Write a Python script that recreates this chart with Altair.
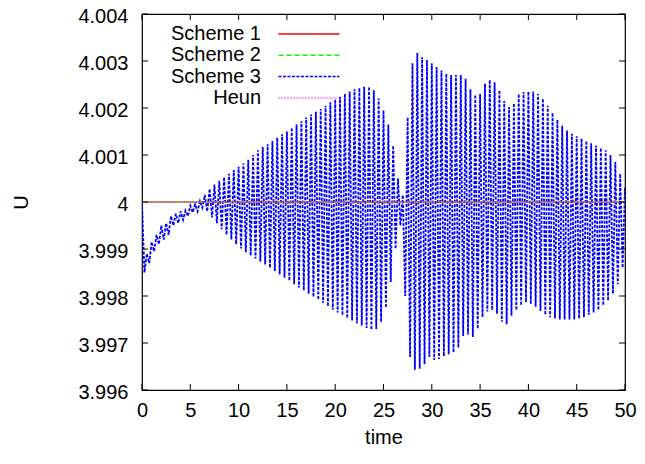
import altair as alt
import pandas as pd

# ---------------- data ----------------
series_names = ["Scheme 1", "Scheme 2", "Scheme 3", "Heun"]
series_colors = ["#ff0000", "#00ff00", "#0000ff", "#ff00ff"]
series_dashes = [[1, 0], [5, 3], [3, 1.5], [1, 2]]

# Schemes 1, 2 and Heun stay flat at U = 4
flat_time = [0, 50]
scheme1_u = [4.0, 4.0]
scheme2_u = [4.0, 4.0]
heun_u = [4.0, 4.0]

# Scheme 3 oscillates fast: upper swing read at t = 0, 0.5, ... 50,
# lower swing read a quarter unit later; values are (U - 4) * 1000
s3_step = 0.5
s3_upper = [
    0.0, -1.1, -0.85, -0.7, -0.5, -0.45, -0.3, -0.25, -0.2, -0.18, -0.08, -0.05, 0.02,
    0.15, 0.28, 0.37, 0.45, 0.53, 0.6, 0.68, 0.75, 0.82, 0.9, 1.0, 1.1, 1.17, 1.23,
    1.3, 1.37, 1.44, 1.5, 1.58, 1.65, 1.72, 1.8, 1.86, 1.92, 1.98, 2.05, 2.12, 2.18,
    2.24, 2.3, 2.35, 2.4, 2.43, 2.45, 2.45, 2.38, 2.2, 1.95, 1.65, 1.2, 0.5, 0.15,
    1.8, 2.95, 3.17, 3.08, 3.02, 2.95, 2.87, 2.8, 2.73, 2.7, 2.7, 2.7, 2.62, 2.4,
    2.28, 2.3, 2.52, 2.6, 2.55, 2.38, 2.15, 2.02, 2.1, 2.3, 2.34, 2.35, 2.35, 2.3,
    2.2, 2.05, 1.9, 1.75, 1.62, 1.52, 1.45, 1.4, 1.35, 1.3, 1.25, 1.2, 1.15, 1.1,
    1.0, 0.85, 0.6, 0.3,
]
s3_lower = [
    -1.5, -1.3, -1.05, -0.9, -0.8, -0.7, -0.5, -0.45, -0.38, -0.3, -0.22, -0.2, -0.12,
    -0.2, -0.33, -0.45, -0.58, -0.7, -0.8, -0.9, -0.99, -1.07, -1.14, -1.2, -1.27,
    -1.33, -1.4, -1.47, -1.54, -1.61, -1.68, -1.75, -1.82, -1.88, -1.95, -2.02, -2.08,
    -2.15, -2.22, -2.29, -2.35, -2.41, -2.47, -2.52, -2.58, -2.63, -2.68, -2.72, -2.7,
    -2.55, -2.25, -1.7, -1.0, -0.5, -2.0, -3.3, -3.57, -3.55, -3.45, -3.3, -3.36,
    -3.34, -3.28, -3.24, -3.2, -3.1, -2.85, -2.82, -2.87, -2.7, -2.45, -2.33, -2.3,
    -2.38, -2.55, -2.6, -2.42, -2.3, -2.2, -2.13, -2.17, -2.23, -2.32, -2.4, -2.45,
    -2.48, -2.5, -2.5, -2.5, -2.5, -2.48, -2.45, -2.4, -2.35, -2.3, -2.2, -2.1, -1.95,
    -1.75, -1.4, -1.0,
]

x_ticks = [0, 5, 10, 15, 20, 25, 30, 35, 40, 45, 50]
y_ticks = [3.996, 3.997, 3.998, 3.999, 4.0, 4.001, 4.002, 4.003, 4.004]

# ---------------- tables ----------------
rows = []
for k, (up, lo) in enumerate(zip(s3_upper, s3_lower)):
    t = k * s3_step
    rows.append({"t": t, "u": 4 + up / 1000, "series": "Scheme 3", "i": 2 * k})
    rows.append({"t": t + s3_step / 2, "u": 4 + lo / 1000, "series": "Scheme 3", "i": 2 * k + 1})
s3_df = pd.DataFrame(rows)

flat_rows = []
for name, vals in [("Scheme 1", scheme1_u), ("Scheme 2", scheme2_u), ("Heun", heun_u)]:
    for j, (t, u) in enumerate(zip(flat_time, vals)):
        flat_rows.append({"t": t, "u": u, "series": name, "i": j})
flat_df = pd.DataFrame(flat_rows)

xt_df = pd.DataFrame({"t": x_ticks})
yt_df = pd.DataFrame({"u": y_ticks})

W, H = 483, 376
FONT = "Liberation Sans"
FS = 20

x_enc = alt.X(
    "t:Q",
    scale=alt.Scale(domain=[0, 50], nice=False, zero=False),
    axis=alt.Axis(
        values=x_ticks, title="time", grid=False, domain=False, ticks=False, tickSize=0,
        labelPadding=10, labelFont=FONT, labelFontSize=FS, labelColor="black",
        titleFont=FONT, titleFontSize=FS, titleFontWeight="normal", titleColor="black",
        titlePadding=7, labelFlush=False,
    ),
)
y_enc = alt.Y(
    "u:Q",
    scale=alt.Scale(domain=[3.996, 4.004], nice=False, zero=False),
    axis=alt.Axis(
        values=y_ticks, title="U", grid=False, domain=False, ticks=False, tickSize=0,
        labelPadding=14, labelOffset=2, labelFont=FONT, labelFontSize=FS, labelColor="black",
        labelExpr="abs(datum.value - 4) < 1e-9 ? '4' : format(datum.value, '.3f')",
        titleFont=FONT, titleFontSize=FS, titleFontWeight="normal", titleColor="black",
        titleX=-111, titleY=H / 2, labelFlush=False,
    ),
)

legend = alt.Legend(
    title=None, orient="none", legendX=156, legendY=9,
    symbolType="M-3.05,0H3.05", symbolSize=400, symbolStrokeWidth=1.5,
    labelFont=FONT, labelFontSize=FS, labelColor="black", labelAlign="right",
    labelOffset={"expr": "-59"}, rowPadding=0.3, padding=0, labelLimit=0,
)
color_enc = alt.Color(
    "series:N", scale=alt.Scale(domain=series_names, range=series_colors), legend=legend
)
dash_enc = alt.StrokeDash(
    "series:N", scale=alt.Scale(domain=series_names, range=series_dashes), legend=legend
)

s3_layer = alt.Chart(s3_df).mark_line(strokeWidth=1.8, clip=True).encode(
    x=x_enc, y=y_enc, color=color_enc, strokeDash=dash_enc, order="i:Q"
)
flat_layer = alt.Chart(flat_df).mark_line(strokeWidth=1.2, clip=True).encode(
    x=x_enc, y=y_enc, color=color_enc, strokeDash=dash_enc, order="i:Q"
)

tick_len = 6
left_ticks = alt.Chart(yt_df).mark_rule(color="black", strokeWidth=1).encode(
    y=y_enc, x=alt.value(0), x2=alt.value(tick_len)
)
right_ticks = alt.Chart(yt_df).mark_rule(color="black", strokeWidth=1).encode(
    y=y_enc, x=alt.value(W - tick_len), x2=alt.value(W)
)
bottom_ticks = alt.Chart(xt_df).mark_rule(color="black", strokeWidth=1).encode(
    x=x_enc, y=alt.value(H - tick_len), y2=alt.value(H)
)
top_ticks = alt.Chart(xt_df).mark_rule(color="black", strokeWidth=1).encode(
    x=x_enc, y=alt.value(0), y2=alt.value(tick_len)
)

chart = (
    alt.layer(s3_layer, flat_layer, left_ticks, right_ticks, bottom_ticks, top_ticks)
    .properties(
        width=W, height=H,
        autosize=alt.AutoSizeParams(type="none"),
        padding={"left": 134, "top": 6, "right": 12, "bottom": 64},
        background="white",
    )
    .configure_view(stroke="black", strokeWidth=1.2)
)

chart.save("out.html", embed_options={"renderer": "svg", "actions": False})
